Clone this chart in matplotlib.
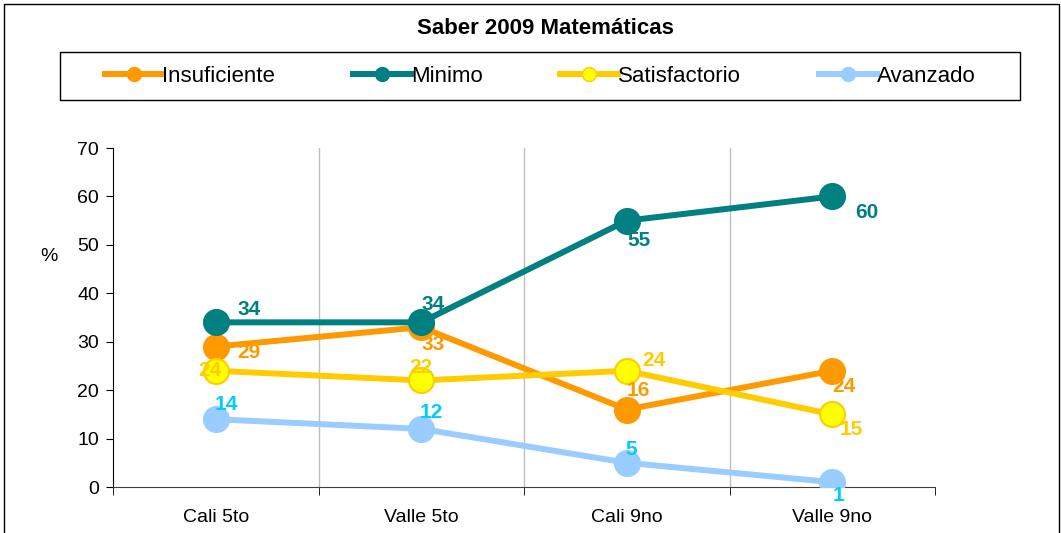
import matplotlib.pyplot as plt
from matplotlib.patches import Rectangle

plt.rcParams["font.family"] = ["Liberation Sans", "DejaVu Sans"]

categories = ["Cali 5to", "Valle 5to", "Cali 9no", "Valle 9no"]
insuficiente = [29, 33, 16, 24]
minimo = [34, 34, 55, 60]
satisfactorio = [24, 22, 24, 15]
avanzado = [14, 12, 5, 1]

# (name, values, line colour, marker face, label colour, label offsets in px)
series = [
    ("Insuficiente", insuficiente, "#FF9900", "#FF9900", "#FF9900",
     [(33, -6), (12, -17), (12, 19), (12, -16)]),
    ("Minimo", minimo, "#008080", "#008080", "#008080",
     [(33, 13), (12, 18), (12, -20), (35, -16)]),
    ("Satisfactorio", satisfactorio, "#FFCC00", "#FFFF00", "#FFCC00",
     [(-6, 0), (0, 13), (27, 10), (19, -15)]),
    ("Avanzado", avanzado, "#99CCFF", "#99CCFF", "#00CCFF",
     [(11, 15), (10, 16), (4, 13), (6, -13)]),
]

fig = plt.figure(figsize=(10.61, 5.33), dpi=100)
ax = fig.add_axes([113 / 1061, 46 / 533, 822 / 1061, 339 / 533])

x = list(range(len(categories)))
for name, vals, lc, fc, tc, offs in series:
    ax.plot(x, vals, color=lc, lw=4.3, marker="o", ms=18,
            mfc=fc, mec=lc, mew=1.5, label=name, zorder=3)
    for xi, v, (dx, dy) in zip(x, vals, offs):
        ax.annotate(str(v), (xi, v), xytext=(dx * 0.72, dy * 0.72),
                    textcoords="offset points", ha="center", va="center",
                    color=tc, fontsize=15, fontweight="bold", zorder=4)

ax.set_xlim(-0.5, 3.5)
ax.set_ylim(0, 70)
ax.set_yticks(range(0, 71, 10))
ax.set_xticks(x)
ax.set_xticklabels(categories)
ax.set_xticks([-0.5, 0.5, 1.5, 2.5, 3.5], minor=True)
ax.tick_params(axis="x", which="major", length=0, pad=16, labelsize=14)
ax.tick_params(axis="x", which="minor", length=6, direction="out")
ax.tick_params(axis="y", length=5, direction="out", labelsize=14, pad=5)
for b in [0.5, 1.5, 2.5]:
    ax.axvline(b, color="#BFBFBF", lw=1, zorder=1)
for s in ["top", "right"]:
    ax.spines[s].set_visible(False)
ax.spines["bottom"].set_color("#404040")
ax.set_ylabel("%", rotation=0, fontsize=14)
ax.yaxis.set_label_coords(-0.078, 0.655)

fig.text(0.514, 0.947, "Saber 2009 Matemáticas", ha="center", va="center",
         fontsize=16, fontweight="bold")

legend_handles = []
for name, vals, lc, fc, tc, offs in series:
    (lh,) = ax.plot([], [], color=lc, lw=4.3, marker="o", ms=10,
                    mfc=fc, mec=lc, mew=1)
    legend_handles.append(lh)
leg = fig.legend(legend_handles, [s[0] for s in series], ncol=4,
                 loc="center", bbox_to_anchor=(540 / 1061, 457 / 533),
                 fontsize=16, frameon=False,
                 handlelength=2.6, handletextpad=0.0, columnspacing=3.5)

fig.patches.append(Rectangle((60 / 1061, 433 / 533), 960 / 1061, 48 / 533,
                             transform=fig.transFigure, fill=False,
                             edgecolor="black", lw=1))
fig.patches.append(Rectangle((4 / 1061, -0.05), 1055 / 1061, 1.05 - 4 / 533,
                             transform=fig.transFigure, fill=False,
                             edgecolor="black", lw=1))

fig.savefig("out.png", dpi=100)
